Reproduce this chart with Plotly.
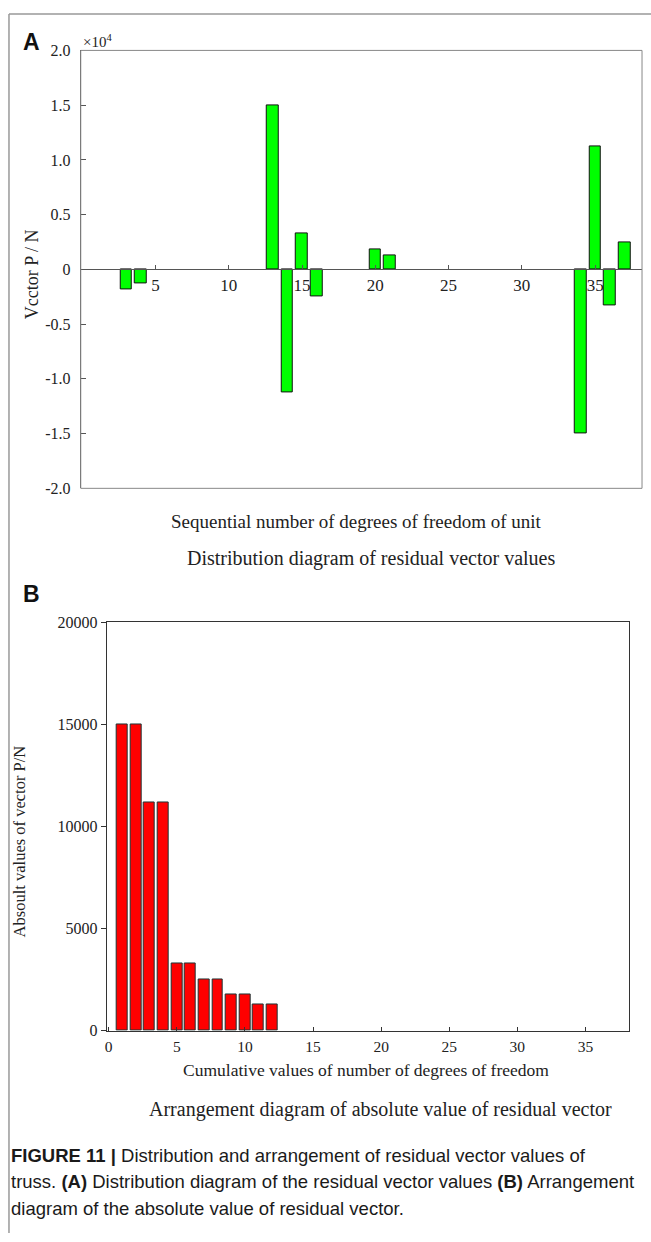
import plotly.graph_objects as go

W, H = 651, 1242

# ---- data ----
dof_index = [3, 4, 13, 14, 15, 16, 20, 21, 34, 35, 36, 37]
residual_values = [-1800, -1300, 15000, -11200, 3300, -2500, 1800, 1300, -15000, 11200, -3300, 2500]

cumulative_index = [1, 2, 3, 4, 5, 6, 7, 8, 9, 10, 11, 12]
abs_values = [15000, 15000, 11200, 11200, 3300, 3300, 2500, 2500, 1800, 1800, 1300, 1300]

a_ytick_vals = [-20000, -15000, -10000, -5000, 0, 5000, 10000, 15000, 20000]
a_ytick_text = ["-2.0", "-1.5", "-1.0", "-0.5", "0", "0.5", "1.0", "1.5", "2.0"]
a_xtick_vals = [5, 10, 15, 20, 25, 30, 35]
b_ytick_vals = [0, 5000, 10000, 15000, 20000]
b_ytick_text = ["0", "5000", "10000", "15000", "20000"]
b_xtick_vals = [0, 5, 10, 15, 20, 25, 30, 35]


def px(x):
    return x / W


def py(y):
    return 1 - y / H


SERIF = "Liberation Serif"
SANS = "Liberation Sans"

# plot-area geometry (pixels)
A_L, A_R, A_T, A_B = 79, 642, 43, 487
B_L, B_R, B_T, B_B = 105, 629, 623, 1037

fig = go.Figure()
fig.add_trace(go.Bar(
    x=dof_index, y=residual_values, width=0.8,
    marker=dict(color="#00ff00", line=dict(color="#111111", width=1)),
    xaxis="x", yaxis="y", showlegend=False,
))
fig.add_trace(go.Bar(
    x=cumulative_index, y=abs_values, width=0.8,
    marker=dict(color="#ff0000", line=dict(color="#1d3535", width=1)),
    xaxis="x2", yaxis="y2", showlegend=False,
))

fig.update_layout(
    width=W, height=H,
    margin=dict(l=0, r=0, t=0, b=0),
    paper_bgcolor="white", plot_bgcolor="white",
    font=dict(family=SERIF, color="#222222", size=16),
    bargap=0,
    xaxis=dict(
        domain=[px(A_L), px(A_R)], range=[-0.1, 38.2],
        anchor="free", position=(py(A_T) + py(A_B)) / 2,
        tickvals=a_xtick_vals, ticks="inside", ticklen=4, tickcolor="#555555",
        showline=True, linecolor="#555555", linewidth=1,
        showgrid=False, zeroline=False,
        tickfont=dict(family=SERIF, size=17, color="#222222"),
    ),
    yaxis=dict(
        domain=[py(A_B), py(A_T)], range=[-20000, 20000],
        anchor="x", tickvals=a_ytick_vals, ticktext=a_ytick_text,
        ticks="inside", ticklen=5, tickcolor="#555555", ticklabelstandoff=6,
        showline=True, linecolor="#555555", linewidth=1,
        showgrid=False, zeroline=False,
        tickfont=dict(family=SERIF, size=16, color="#222222"),
    ),
    xaxis2=dict(
        domain=[px(B_L), px(B_R)], range=[-0.15, 38.2],
        anchor="y2", tickvals=b_xtick_vals, ticks="inside", ticklen=4,
        tickcolor="#333333", ticklabelstandoff=2,
        showline=True, linecolor="#333333", linewidth=1, mirror=True,
        showgrid=False, zeroline=False,
        tickfont=dict(family=SERIF, size=15.5, color="#222222"),
    ),
    yaxis2=dict(
        domain=[py(B_B), py(B_T)], range=[0, 20000],
        anchor="x2", tickvals=b_ytick_vals, ticktext=b_ytick_text,
        ticks="outside", ticklen=5, tickcolor="#333333",
        showline=True, linecolor="#333333", linewidth=1, mirror=True,
        showgrid=False, zeroline=False,
        tickfont=dict(family=SERIF, size=16, color="#222222"),
    ),
)

shapes = [
    # panel A frame
    dict(type="rect", xref="x domain", yref="y domain", x0=0, x1=1, y0=0, y1=1,
         line=dict(color="#888888", width=1), fillcolor="rgba(0,0,0,0)", layer="above"),
    # figure border (top and left)
    dict(type="line", xref="paper", yref="paper", x0=px(7), x1=1, y0=py(6), y1=py(6),
         line=dict(color="#999999", width=1.5)),
    dict(type="line", xref="paper", yref="paper", x0=px(7), x1=px(7), y0=0, y1=py(6),
         line=dict(color="#999999", width=1.5)),
]
fig.update_layout(shapes=shapes)

ann = []


def text(x, y, s, size, family=SERIF, xanchor="center", angle=0, color="#222222"):
    ann.append(dict(x=px(x), y=py(y), xref="paper", yref="paper", text=s, showarrow=False,
                    xanchor=xanchor, yanchor="middle", textangle=angle,
                    font=dict(family=family, size=size, color=color)))


text(19, 34, "<b>A</b>", 23, SANS, xanchor="left", color="#111111")
text(79, 33, "×10<sup>4</sup>", 15, xanchor="left")
text(30, 270, "Vcctor P / N", 18, angle=-90)
text(356, 521, "Sequential number of degrees of freedom of unit", 19)
text(370, 558, "Distribution diagram of residual vector values", 20)

text(19, 594, "<b>B</b>", 23, SANS, xanchor="left", color="#111111")
text(17, 845, "Absoult values of vector P/N", 16.5, angle=-90)
text(365, 1077, "Cumulative values of number of degrees of freedom", 17.5)
text(380, 1117, "Arrangement diagram of absolute value of residual vector", 20)

caption = [
    "<b>FIGURE 11 |</b> Distribution and arrangement of residual vector values of",
    "truss. <b>(A)</b> Distribution diagram of the residual vector values <b>(B)</b> Arrangement",
    "diagram of the absolute value of residual vector.",
]
for i, line in enumerate(caption):
    text(7, 1163 + 27 * i, line, 18.5, SANS, xanchor="left", color="#1a1a1a")

fig.update_layout(annotations=ann)

fig.write_html("out.html")
